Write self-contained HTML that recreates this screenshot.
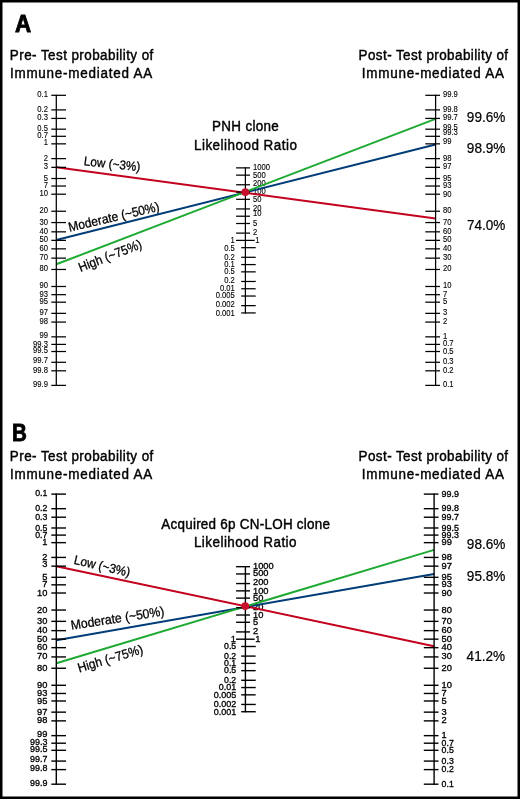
<!DOCTYPE html>
<html><head><meta charset="utf-8"><style>
html,body{margin:0;padding:0;background:#fff;}
body{width:520px;height:799px;position:relative;overflow:hidden;font-family:"Liberation Sans",sans-serif;}
svg{position:absolute;left:0;top:0;will-change:transform;}
</style></head><body>
<svg width="520" height="799" viewBox="0 0 520 799">
<rect x="0" y="0" width="520" height="799" fill="#fff"/>
<g font-family="Liberation Sans, sans-serif" fill="#000">
<text x="48.00" y="96.91" font-size="8.5" text-anchor="end" textLength="10.63" lengthAdjust="spacingAndGlyphs" stroke="#000" stroke-width="0.12">0.1</text>
<text x="48.00" y="111.89" font-size="8.5" text-anchor="end" textLength="10.63" lengthAdjust="spacingAndGlyphs" stroke="#000" stroke-width="0.12">0.2</text>
<text x="48.00" y="120.42" font-size="8.5" text-anchor="end" textLength="10.63" lengthAdjust="spacingAndGlyphs" stroke="#000" stroke-width="0.12">0.3</text>
<text x="48.00" y="131.19" font-size="8.5" text-anchor="end" textLength="10.63" lengthAdjust="spacingAndGlyphs" stroke="#000" stroke-width="0.12">0.5</text>
<text x="48.00" y="138.30" font-size="8.5" text-anchor="end" textLength="10.63" lengthAdjust="spacingAndGlyphs" stroke="#000" stroke-width="0.12">0.7</text>
<text x="48.00" y="145.45" font-size="8.5" text-anchor="end" textLength="4.25" lengthAdjust="spacingAndGlyphs" stroke="#000" stroke-width="0.12">1</text>
<text x="48.00" y="160.62" font-size="8.5" text-anchor="end" textLength="4.25" lengthAdjust="spacingAndGlyphs" stroke="#000" stroke-width="0.12">2</text>
<text x="48.00" y="169.35" font-size="8.5" text-anchor="end" textLength="4.25" lengthAdjust="spacingAndGlyphs" stroke="#000" stroke-width="0.12">3</text>
<text x="48.00" y="180.52" font-size="8.5" text-anchor="end" textLength="4.25" lengthAdjust="spacingAndGlyphs" stroke="#000" stroke-width="0.12">5</text>
<text x="48.00" y="188.03" font-size="8.5" text-anchor="end" textLength="4.25" lengthAdjust="spacingAndGlyphs" stroke="#000" stroke-width="0.12">7</text>
<text x="48.00" y="196.21" font-size="8.5" text-anchor="end" textLength="8.51" lengthAdjust="spacingAndGlyphs" stroke="#000" stroke-width="0.12">10</text>
<text x="48.00" y="213.24" font-size="8.5" text-anchor="end" textLength="8.51" lengthAdjust="spacingAndGlyphs" stroke="#000" stroke-width="0.12">20</text>
<text x="48.00" y="224.56" font-size="8.5" text-anchor="end" textLength="8.51" lengthAdjust="spacingAndGlyphs" stroke="#000" stroke-width="0.12">30</text>
<text x="48.00" y="233.84" font-size="8.5" text-anchor="end" textLength="8.51" lengthAdjust="spacingAndGlyphs" stroke="#000" stroke-width="0.12">40</text>
<text x="48.00" y="242.35" font-size="8.5" text-anchor="end" textLength="8.51" lengthAdjust="spacingAndGlyphs" stroke="#000" stroke-width="0.12">50</text>
<text x="48.00" y="250.86" font-size="8.5" text-anchor="end" textLength="8.51" lengthAdjust="spacingAndGlyphs" stroke="#000" stroke-width="0.12">60</text>
<text x="48.00" y="260.14" font-size="8.5" text-anchor="end" textLength="8.51" lengthAdjust="spacingAndGlyphs" stroke="#000" stroke-width="0.12">70</text>
<text x="48.00" y="271.46" font-size="8.5" text-anchor="end" textLength="8.51" lengthAdjust="spacingAndGlyphs" stroke="#000" stroke-width="0.12">80</text>
<text x="48.00" y="288.49" font-size="8.5" text-anchor="end" textLength="8.51" lengthAdjust="spacingAndGlyphs" stroke="#000" stroke-width="0.12">90</text>
<text x="48.00" y="296.67" font-size="8.5" text-anchor="end" textLength="8.51" lengthAdjust="spacingAndGlyphs" stroke="#000" stroke-width="0.12">93</text>
<text x="48.00" y="304.18" font-size="8.5" text-anchor="end" textLength="8.51" lengthAdjust="spacingAndGlyphs" stroke="#000" stroke-width="0.12">95</text>
<text x="48.00" y="315.35" font-size="8.5" text-anchor="end" textLength="8.51" lengthAdjust="spacingAndGlyphs" stroke="#000" stroke-width="0.12">97</text>
<text x="48.00" y="324.08" font-size="8.5" text-anchor="end" textLength="8.51" lengthAdjust="spacingAndGlyphs" stroke="#000" stroke-width="0.12">98</text>
<text x="48.00" y="337.65" font-size="8.5" text-anchor="end" textLength="8.51" lengthAdjust="spacingAndGlyphs" stroke="#000" stroke-width="0.12">99</text>
<text x="48.00" y="346.80" font-size="8.5" text-anchor="end" textLength="14.89" lengthAdjust="spacingAndGlyphs" stroke="#000" stroke-width="0.12">99.3</text>
<text x="48.00" y="353.11" font-size="8.5" text-anchor="end" textLength="14.89" lengthAdjust="spacingAndGlyphs" stroke="#000" stroke-width="0.12">99.5</text>
<text x="48.00" y="363.38" font-size="8.5" text-anchor="end" textLength="14.89" lengthAdjust="spacingAndGlyphs" stroke="#000" stroke-width="0.12">99.7</text>
<text x="48.00" y="373.01" font-size="8.5" text-anchor="end" textLength="14.89" lengthAdjust="spacingAndGlyphs" stroke="#000" stroke-width="0.12">99.8</text>
<text x="48.00" y="386.79" font-size="8.5" text-anchor="end" textLength="14.89" lengthAdjust="spacingAndGlyphs" stroke="#000" stroke-width="0.12">99.9</text>
<text x="442.90" y="97.01" font-size="8.5" textLength="14.89" lengthAdjust="spacingAndGlyphs" stroke="#000" stroke-width="0.12">99.9</text>
<text x="442.90" y="112.19" font-size="8.5" textLength="14.89" lengthAdjust="spacingAndGlyphs" stroke="#000" stroke-width="0.12">99.8</text>
<text x="442.90" y="120.42" font-size="8.5" textLength="14.89" lengthAdjust="spacingAndGlyphs" stroke="#000" stroke-width="0.12">99.7</text>
<text x="442.90" y="129.69" font-size="8.5" textLength="14.89" lengthAdjust="spacingAndGlyphs" stroke="#000" stroke-width="0.12">99.5</text>
<text x="442.90" y="135.20" font-size="8.5" textLength="14.89" lengthAdjust="spacingAndGlyphs" stroke="#000" stroke-width="0.12">99.3</text>
<text x="442.90" y="143.95" font-size="8.5" textLength="8.51" lengthAdjust="spacingAndGlyphs" stroke="#000" stroke-width="0.12">99</text>
<text x="442.90" y="161.12" font-size="8.5" textLength="8.51" lengthAdjust="spacingAndGlyphs" stroke="#000" stroke-width="0.12">98</text>
<text x="442.90" y="168.75" font-size="8.5" textLength="8.51" lengthAdjust="spacingAndGlyphs" stroke="#000" stroke-width="0.12">97</text>
<text x="442.90" y="181.02" font-size="8.5" textLength="8.51" lengthAdjust="spacingAndGlyphs" stroke="#000" stroke-width="0.12">95</text>
<text x="442.90" y="187.53" font-size="8.5" textLength="8.51" lengthAdjust="spacingAndGlyphs" stroke="#000" stroke-width="0.12">93</text>
<text x="442.90" y="196.51" font-size="8.5" textLength="8.51" lengthAdjust="spacingAndGlyphs" stroke="#000" stroke-width="0.12">90</text>
<text x="442.90" y="212.74" font-size="8.5" textLength="8.51" lengthAdjust="spacingAndGlyphs" stroke="#000" stroke-width="0.12">80</text>
<text x="442.90" y="224.86" font-size="8.5" textLength="8.51" lengthAdjust="spacingAndGlyphs" stroke="#000" stroke-width="0.12">70</text>
<text x="442.90" y="234.04" font-size="8.5" textLength="8.51" lengthAdjust="spacingAndGlyphs" stroke="#000" stroke-width="0.12">60</text>
<text x="442.90" y="242.35" font-size="8.5" textLength="8.51" lengthAdjust="spacingAndGlyphs" stroke="#000" stroke-width="0.12">50</text>
<text x="442.90" y="250.86" font-size="8.5" textLength="8.51" lengthAdjust="spacingAndGlyphs" stroke="#000" stroke-width="0.12">40</text>
<text x="442.90" y="260.14" font-size="8.5" textLength="8.51" lengthAdjust="spacingAndGlyphs" stroke="#000" stroke-width="0.12">30</text>
<text x="442.90" y="271.46" font-size="8.5" textLength="8.51" lengthAdjust="spacingAndGlyphs" stroke="#000" stroke-width="0.12">20</text>
<text x="442.90" y="288.49" font-size="8.5" textLength="8.51" lengthAdjust="spacingAndGlyphs" stroke="#000" stroke-width="0.12">10</text>
<text x="442.90" y="296.67" font-size="8.5" textLength="4.25" lengthAdjust="spacingAndGlyphs" stroke="#000" stroke-width="0.12">7</text>
<text x="442.90" y="304.18" font-size="8.5" textLength="4.25" lengthAdjust="spacingAndGlyphs" stroke="#000" stroke-width="0.12">5</text>
<text x="442.90" y="315.35" font-size="8.5" textLength="4.25" lengthAdjust="spacingAndGlyphs" stroke="#000" stroke-width="0.12">3</text>
<text x="442.90" y="324.08" font-size="8.5" textLength="4.25" lengthAdjust="spacingAndGlyphs" stroke="#000" stroke-width="0.12">2</text>
<text x="442.90" y="338.85" font-size="8.5" textLength="4.25" lengthAdjust="spacingAndGlyphs" stroke="#000" stroke-width="0.12">1</text>
<text x="442.90" y="346.40" font-size="8.5" textLength="10.63" lengthAdjust="spacingAndGlyphs" stroke="#000" stroke-width="0.12">0.7</text>
<text x="442.90" y="353.51" font-size="8.5" textLength="10.63" lengthAdjust="spacingAndGlyphs" stroke="#000" stroke-width="0.12">0.5</text>
<text x="442.90" y="364.28" font-size="8.5" textLength="10.63" lengthAdjust="spacingAndGlyphs" stroke="#000" stroke-width="0.12">0.3</text>
<text x="442.90" y="372.81" font-size="8.5" textLength="10.63" lengthAdjust="spacingAndGlyphs" stroke="#000" stroke-width="0.12">0.2</text>
<text x="442.90" y="387.39" font-size="8.5" textLength="10.63" lengthAdjust="spacingAndGlyphs" stroke="#000" stroke-width="0.12">0.1</text>
<text x="253.00" y="169.97" font-size="8.5" textLength="17.01" lengthAdjust="spacingAndGlyphs" stroke="#000" stroke-width="0.12">1000</text>
<text x="253.00" y="177.65" font-size="8.5" textLength="12.76" lengthAdjust="spacingAndGlyphs" stroke="#000" stroke-width="0.12">500</text>
<text x="253.00" y="186.37" font-size="8.5" textLength="12.76" lengthAdjust="spacingAndGlyphs" stroke="#000" stroke-width="0.12">200</text>
<text x="253.00" y="194.35" font-size="8.5" textLength="12.76" lengthAdjust="spacingAndGlyphs" stroke="#000" stroke-width="0.12">100</text>
<text x="253.00" y="201.52" font-size="8.5" textLength="8.51" lengthAdjust="spacingAndGlyphs" stroke="#000" stroke-width="0.12">50</text>
<text x="253.00" y="210.54" font-size="8.5" textLength="8.51" lengthAdjust="spacingAndGlyphs" stroke="#000" stroke-width="0.12">20</text>
<text x="253.00" y="216.42" font-size="8.5" textLength="8.51" lengthAdjust="spacingAndGlyphs" stroke="#000" stroke-width="0.12">10</text>
<text x="253.00" y="225.50" font-size="8.5" textLength="4.25" lengthAdjust="spacingAndGlyphs" stroke="#000" stroke-width="0.12">5</text>
<text x="253.00" y="235.12" font-size="8.5" textLength="4.25" lengthAdjust="spacingAndGlyphs" stroke="#000" stroke-width="0.12">2</text>
<text x="234.80" y="242.90" font-size="8.5" text-anchor="end" textLength="4.25" lengthAdjust="spacingAndGlyphs" stroke="#000" stroke-width="0.12">1</text>
<text x="255.30" y="242.70" font-size="8.5" textLength="4.25" lengthAdjust="spacingAndGlyphs" stroke="#000" stroke-width="0.12">1</text>
<text x="234.80" y="250.98" font-size="8.5" text-anchor="end" textLength="10.63" lengthAdjust="spacingAndGlyphs" stroke="#000" stroke-width="0.12">0.5</text>
<text x="234.80" y="260.20" font-size="8.5" text-anchor="end" textLength="10.63" lengthAdjust="spacingAndGlyphs" stroke="#000" stroke-width="0.12">0.2</text>
<text x="234.80" y="267.28" font-size="8.5" text-anchor="end" textLength="10.63" lengthAdjust="spacingAndGlyphs" stroke="#000" stroke-width="0.12">0.1</text>
<text x="234.80" y="273.96" font-size="8.5" text-anchor="end" textLength="10.63" lengthAdjust="spacingAndGlyphs" stroke="#000" stroke-width="0.12">0.5</text>
<text x="234.80" y="283.28" font-size="8.5" text-anchor="end" textLength="10.63" lengthAdjust="spacingAndGlyphs" stroke="#000" stroke-width="0.12">0.2</text>
<text x="234.80" y="290.75" font-size="8.5" text-anchor="end" textLength="14.89" lengthAdjust="spacingAndGlyphs" stroke="#000" stroke-width="0.12">0.01</text>
<text x="234.80" y="298.13" font-size="8.5" text-anchor="end" textLength="19.14" lengthAdjust="spacingAndGlyphs" stroke="#000" stroke-width="0.12">0.005</text>
<text x="234.80" y="306.65" font-size="8.5" text-anchor="end" textLength="19.14" lengthAdjust="spacingAndGlyphs" stroke="#000" stroke-width="0.12">0.002</text>
<text x="234.80" y="315.73" font-size="8.5" text-anchor="end" textLength="19.14" lengthAdjust="spacingAndGlyphs" stroke="#000" stroke-width="0.12">0.001</text>
<text x="47.40" y="496.25" font-size="8.3" text-anchor="end" textLength="12.18" lengthAdjust="spacingAndGlyphs" stroke="#000" stroke-width="0.3">0.1</text>
<text x="47.40" y="511.23" font-size="8.3" text-anchor="end" textLength="12.18" lengthAdjust="spacingAndGlyphs" stroke="#000" stroke-width="0.3">0.2</text>
<text x="47.40" y="519.76" font-size="8.3" text-anchor="end" textLength="12.18" lengthAdjust="spacingAndGlyphs" stroke="#000" stroke-width="0.3">0.3</text>
<text x="47.40" y="530.53" font-size="8.3" text-anchor="end" textLength="12.18" lengthAdjust="spacingAndGlyphs" stroke="#000" stroke-width="0.3">0.5</text>
<text x="47.40" y="537.64" font-size="8.3" text-anchor="end" textLength="12.18" lengthAdjust="spacingAndGlyphs" stroke="#000" stroke-width="0.3">0.7</text>
<text x="47.40" y="545.19" font-size="8.3" text-anchor="end" textLength="5.17" lengthAdjust="spacingAndGlyphs" stroke="#000" stroke-width="0.3">1</text>
<text x="47.40" y="559.96" font-size="8.3" text-anchor="end" textLength="5.17" lengthAdjust="spacingAndGlyphs" stroke="#000" stroke-width="0.3">2</text>
<text x="47.40" y="567.49" font-size="8.3" text-anchor="end" textLength="5.17" lengthAdjust="spacingAndGlyphs" stroke="#000" stroke-width="0.3">3</text>
<text x="47.40" y="579.86" font-size="8.3" text-anchor="end" textLength="5.17" lengthAdjust="spacingAndGlyphs" stroke="#000" stroke-width="0.3">5</text>
<text x="47.40" y="587.37" font-size="8.3" text-anchor="end" textLength="5.17" lengthAdjust="spacingAndGlyphs" stroke="#000" stroke-width="0.3">7</text>
<text x="47.40" y="595.55" font-size="8.3" text-anchor="end" textLength="10.34" lengthAdjust="spacingAndGlyphs" stroke="#000" stroke-width="0.3">10</text>
<text x="47.40" y="612.98" font-size="8.3" text-anchor="end" textLength="10.34" lengthAdjust="spacingAndGlyphs" stroke="#000" stroke-width="0.3">20</text>
<text x="47.40" y="623.90" font-size="8.3" text-anchor="end" textLength="10.34" lengthAdjust="spacingAndGlyphs" stroke="#000" stroke-width="0.3">30</text>
<text x="47.40" y="633.18" font-size="8.3" text-anchor="end" textLength="10.34" lengthAdjust="spacingAndGlyphs" stroke="#000" stroke-width="0.3">40</text>
<text x="47.40" y="641.69" font-size="8.3" text-anchor="end" textLength="10.34" lengthAdjust="spacingAndGlyphs" stroke="#000" stroke-width="0.3">50</text>
<text x="47.40" y="650.20" font-size="8.3" text-anchor="end" textLength="10.34" lengthAdjust="spacingAndGlyphs" stroke="#000" stroke-width="0.3">60</text>
<text x="47.40" y="659.48" font-size="8.3" text-anchor="end" textLength="10.34" lengthAdjust="spacingAndGlyphs" stroke="#000" stroke-width="0.3">70</text>
<text x="47.40" y="670.80" font-size="8.3" text-anchor="end" textLength="10.34" lengthAdjust="spacingAndGlyphs" stroke="#000" stroke-width="0.3">80</text>
<text x="47.40" y="687.83" font-size="8.3" text-anchor="end" textLength="10.34" lengthAdjust="spacingAndGlyphs" stroke="#000" stroke-width="0.3">90</text>
<text x="47.40" y="696.01" font-size="8.3" text-anchor="end" textLength="10.34" lengthAdjust="spacingAndGlyphs" stroke="#000" stroke-width="0.3">93</text>
<text x="47.40" y="703.52" font-size="8.3" text-anchor="end" textLength="10.34" lengthAdjust="spacingAndGlyphs" stroke="#000" stroke-width="0.3">95</text>
<text x="47.40" y="714.69" font-size="8.3" text-anchor="end" textLength="10.34" lengthAdjust="spacingAndGlyphs" stroke="#000" stroke-width="0.3">97</text>
<text x="47.40" y="723.42" font-size="8.3" text-anchor="end" textLength="10.34" lengthAdjust="spacingAndGlyphs" stroke="#000" stroke-width="0.3">98</text>
<text x="47.40" y="736.59" font-size="8.3" text-anchor="end" textLength="10.34" lengthAdjust="spacingAndGlyphs" stroke="#000" stroke-width="0.3">99</text>
<text x="47.40" y="745.44" font-size="8.3" text-anchor="end" textLength="17.35" lengthAdjust="spacingAndGlyphs" stroke="#000" stroke-width="0.3">99.3</text>
<text x="47.40" y="752.25" font-size="8.3" text-anchor="end" textLength="17.35" lengthAdjust="spacingAndGlyphs" stroke="#000" stroke-width="0.3">99.5</text>
<text x="47.40" y="761.52" font-size="8.3" text-anchor="end" textLength="17.35" lengthAdjust="spacingAndGlyphs" stroke="#000" stroke-width="0.3">99.7</text>
<text x="47.40" y="771.15" font-size="8.3" text-anchor="end" textLength="17.35" lengthAdjust="spacingAndGlyphs" stroke="#000" stroke-width="0.3">99.8</text>
<text x="47.40" y="785.73" font-size="8.3" text-anchor="end" textLength="17.35" lengthAdjust="spacingAndGlyphs" stroke="#000" stroke-width="0.3">99.9</text>
<text x="441.58" y="496.65" font-size="8.3" textLength="17.35" lengthAdjust="spacingAndGlyphs" stroke="#000" stroke-width="0.3">99.9</text>
<text x="441.58" y="511.23" font-size="8.3" textLength="17.35" lengthAdjust="spacingAndGlyphs" stroke="#000" stroke-width="0.3">99.8</text>
<text x="441.58" y="519.76" font-size="8.3" textLength="17.35" lengthAdjust="spacingAndGlyphs" stroke="#000" stroke-width="0.3">99.7</text>
<text x="441.58" y="530.53" font-size="8.3" textLength="17.35" lengthAdjust="spacingAndGlyphs" stroke="#000" stroke-width="0.3">99.5</text>
<text x="441.58" y="537.64" font-size="8.3" textLength="17.35" lengthAdjust="spacingAndGlyphs" stroke="#000" stroke-width="0.3">99.3</text>
<text x="441.58" y="545.19" font-size="8.3" textLength="10.34" lengthAdjust="spacingAndGlyphs" stroke="#000" stroke-width="0.3">99</text>
<text x="441.58" y="559.96" font-size="8.3" textLength="10.34" lengthAdjust="spacingAndGlyphs" stroke="#000" stroke-width="0.3">98</text>
<text x="441.58" y="568.69" font-size="8.3" textLength="10.34" lengthAdjust="spacingAndGlyphs" stroke="#000" stroke-width="0.3">97</text>
<text x="441.58" y="579.86" font-size="8.3" textLength="10.34" lengthAdjust="spacingAndGlyphs" stroke="#000" stroke-width="0.3">95</text>
<text x="441.58" y="587.37" font-size="8.3" textLength="10.34" lengthAdjust="spacingAndGlyphs" stroke="#000" stroke-width="0.3">93</text>
<text x="441.58" y="595.55" font-size="8.3" textLength="10.34" lengthAdjust="spacingAndGlyphs" stroke="#000" stroke-width="0.3">90</text>
<text x="441.58" y="612.58" font-size="8.3" textLength="10.34" lengthAdjust="spacingAndGlyphs" stroke="#000" stroke-width="0.3">80</text>
<text x="441.58" y="623.90" font-size="8.3" textLength="10.34" lengthAdjust="spacingAndGlyphs" stroke="#000" stroke-width="0.3">70</text>
<text x="441.58" y="633.18" font-size="8.3" textLength="10.34" lengthAdjust="spacingAndGlyphs" stroke="#000" stroke-width="0.3">60</text>
<text x="441.58" y="641.69" font-size="8.3" textLength="10.34" lengthAdjust="spacingAndGlyphs" stroke="#000" stroke-width="0.3">50</text>
<text x="441.58" y="650.20" font-size="8.3" textLength="10.34" lengthAdjust="spacingAndGlyphs" stroke="#000" stroke-width="0.3">40</text>
<text x="441.58" y="659.48" font-size="8.3" textLength="10.34" lengthAdjust="spacingAndGlyphs" stroke="#000" stroke-width="0.3">30</text>
<text x="441.58" y="670.80" font-size="8.3" textLength="10.34" lengthAdjust="spacingAndGlyphs" stroke="#000" stroke-width="0.3">20</text>
<text x="441.58" y="687.83" font-size="8.3" textLength="10.34" lengthAdjust="spacingAndGlyphs" stroke="#000" stroke-width="0.3">10</text>
<text x="441.58" y="696.01" font-size="8.3" textLength="5.17" lengthAdjust="spacingAndGlyphs" stroke="#000" stroke-width="0.3">7</text>
<text x="441.58" y="703.52" font-size="8.3" textLength="5.17" lengthAdjust="spacingAndGlyphs" stroke="#000" stroke-width="0.3">5</text>
<text x="441.58" y="714.69" font-size="8.3" textLength="5.17" lengthAdjust="spacingAndGlyphs" stroke="#000" stroke-width="0.3">3</text>
<text x="441.58" y="723.42" font-size="8.3" textLength="5.17" lengthAdjust="spacingAndGlyphs" stroke="#000" stroke-width="0.3">2</text>
<text x="441.58" y="738.19" font-size="8.3" textLength="5.17" lengthAdjust="spacingAndGlyphs" stroke="#000" stroke-width="0.3">1</text>
<text x="441.58" y="745.74" font-size="8.3" textLength="12.18" lengthAdjust="spacingAndGlyphs" stroke="#000" stroke-width="0.3">0.7</text>
<text x="441.58" y="752.85" font-size="8.3" textLength="12.18" lengthAdjust="spacingAndGlyphs" stroke="#000" stroke-width="0.3">0.5</text>
<text x="441.58" y="763.62" font-size="8.3" textLength="12.18" lengthAdjust="spacingAndGlyphs" stroke="#000" stroke-width="0.3">0.3</text>
<text x="441.58" y="772.15" font-size="8.3" textLength="12.18" lengthAdjust="spacingAndGlyphs" stroke="#000" stroke-width="0.3">0.2</text>
<text x="441.58" y="786.73" font-size="8.3" textLength="12.18" lengthAdjust="spacingAndGlyphs" stroke="#000" stroke-width="0.3">0.1</text>
<text x="253.00" y="569.21" font-size="8.3" textLength="20.67" lengthAdjust="spacingAndGlyphs" stroke="#000" stroke-width="0.3">1000</text>
<text x="253.00" y="576.49" font-size="8.3" textLength="15.51" lengthAdjust="spacingAndGlyphs" stroke="#000" stroke-width="0.3">500</text>
<text x="253.00" y="584.81" font-size="8.3" textLength="15.51" lengthAdjust="spacingAndGlyphs" stroke="#000" stroke-width="0.3">200</text>
<text x="253.00" y="594.19" font-size="8.3" textLength="15.51" lengthAdjust="spacingAndGlyphs" stroke="#000" stroke-width="0.3">100</text>
<text x="253.00" y="600.66" font-size="8.3" textLength="10.34" lengthAdjust="spacingAndGlyphs" stroke="#000" stroke-width="0.3">50</text>
<text x="253.00" y="610.28" font-size="8.3" textLength="10.34" lengthAdjust="spacingAndGlyphs" stroke="#000" stroke-width="0.3">20</text>
<text x="253.00" y="617.56" font-size="8.3" textLength="10.34" lengthAdjust="spacingAndGlyphs" stroke="#000" stroke-width="0.3">10</text>
<text x="253.00" y="624.84" font-size="8.3" textLength="5.17" lengthAdjust="spacingAndGlyphs" stroke="#000" stroke-width="0.3">5</text>
<text x="253.00" y="634.46" font-size="8.3" textLength="5.17" lengthAdjust="spacingAndGlyphs" stroke="#000" stroke-width="0.3">2</text>
<text x="236.00" y="641.74" font-size="8.3" text-anchor="end" textLength="5.17" lengthAdjust="spacingAndGlyphs" stroke="#000" stroke-width="0.3">1</text>
<text x="255.30" y="641.74" font-size="8.3" textLength="5.17" lengthAdjust="spacingAndGlyphs" stroke="#000" stroke-width="0.3">1</text>
<text x="236.20" y="649.02" font-size="8.3" text-anchor="end" textLength="12.18" lengthAdjust="spacingAndGlyphs" stroke="#000" stroke-width="0.3">0.5</text>
<text x="236.20" y="658.64" font-size="8.3" text-anchor="end" textLength="12.18" lengthAdjust="spacingAndGlyphs" stroke="#000" stroke-width="0.3">0.2</text>
<text x="236.20" y="665.92" font-size="8.3" text-anchor="end" textLength="12.18" lengthAdjust="spacingAndGlyphs" stroke="#000" stroke-width="0.3">0.1</text>
<text x="236.20" y="673.20" font-size="8.3" text-anchor="end" textLength="12.18" lengthAdjust="spacingAndGlyphs" stroke="#000" stroke-width="0.3">0.5</text>
<text x="236.20" y="682.82" font-size="8.3" text-anchor="end" textLength="12.18" lengthAdjust="spacingAndGlyphs" stroke="#000" stroke-width="0.3">0.2</text>
<text x="236.20" y="690.09" font-size="8.3" text-anchor="end" textLength="17.35" lengthAdjust="spacingAndGlyphs" stroke="#000" stroke-width="0.3">0.01</text>
<text x="236.20" y="698.47" font-size="8.3" text-anchor="end" textLength="22.52" lengthAdjust="spacingAndGlyphs" stroke="#000" stroke-width="0.3">0.005</text>
<text x="236.20" y="706.69" font-size="8.3" text-anchor="end" textLength="22.52" lengthAdjust="spacingAndGlyphs" stroke="#000" stroke-width="0.3">0.002</text>
<text x="236.20" y="714.97" font-size="8.3" text-anchor="end" textLength="22.52" lengthAdjust="spacingAndGlyphs" stroke="#000" stroke-width="0.3">0.001</text>
<text x="10.29" y="59.60" font-size="14.0" textLength="149.42" lengthAdjust="spacing" stroke="#000" stroke-width="0.42" transform="scale(0.96,1)">Pre- Test probability of</text>
<text x="10.36" y="77.90" font-size="14.0" textLength="148.22" lengthAdjust="spacing" stroke="#000" stroke-width="0.42" transform="scale(0.96,1)">Immune-mediated AA</text>
<text x="373.52" y="59.70" font-size="14.0" textLength="155.74" lengthAdjust="spacing" stroke="#000" stroke-width="0.42" transform="scale(0.96,1)">Post- Test probability of</text>
<text x="376.95" y="77.95" font-size="14.0" textLength="148.01" lengthAdjust="spacing" stroke="#000" stroke-width="0.42" transform="scale(0.96,1)">Immune-mediated AA</text>
<text x="10.29" y="460.90" font-size="14.0" textLength="149.42" lengthAdjust="spacing" stroke="#000" stroke-width="0.42" transform="scale(0.96,1)">Pre- Test probability of</text>
<text x="10.36" y="479.20" font-size="14.0" textLength="148.22" lengthAdjust="spacing" stroke="#000" stroke-width="0.42" transform="scale(0.96,1)">Immune-mediated AA</text>
<text x="373.52" y="461.00" font-size="14.0" textLength="155.74" lengthAdjust="spacing" stroke="#000" stroke-width="0.42" transform="scale(0.96,1)">Post- Test probability of</text>
<text x="376.95" y="479.25" font-size="14.0" textLength="148.01" lengthAdjust="spacing" stroke="#000" stroke-width="0.42" transform="scale(0.96,1)">Immune-mediated AA</text>
<text x="14.97" y="31.80" font-size="24.2" font-weight="bold" textLength="16.16" lengthAdjust="spacingAndGlyphs" stroke="#000" stroke-width="0.9">A</text>
<text x="12.08" y="440.90" font-size="24.2" font-weight="bold" textLength="14.82" lengthAdjust="spacingAndGlyphs" stroke="#000" stroke-width="0.9">B</text>
<text x="220.95" y="131.30" font-size="14.0" textLength="69.40" lengthAdjust="spacing" stroke="#000" stroke-width="0.42" transform="scale(0.96,1)">PNH clone</text>
<text x="202.01" y="149.80" font-size="14.0" textLength="107.34" lengthAdjust="spacing" stroke="#000" stroke-width="0.42" transform="scale(0.96,1)">Likelihood Ratio</text>
<text x="167.94" y="528.70" font-size="14.0" textLength="175.86" lengthAdjust="spacing" stroke="#000" stroke-width="0.42" transform="scale(0.96,1)">Acquired 6p CN-LOH clone</text>
<text x="202.01" y="547.10" font-size="14.0" textLength="106.90" lengthAdjust="spacing" stroke="#000" stroke-width="0.42" transform="scale(0.96,1)">Likelihood Ratio</text>
<text x="466.84" y="121.90" font-size="14.2" textLength="38.58" lengthAdjust="spacingAndGlyphs" stroke="#000" stroke-width="0.2">99.6%</text>
<text x="466.84" y="153.10" font-size="14.2" textLength="38.58" lengthAdjust="spacingAndGlyphs" stroke="#000" stroke-width="0.2">98.9%</text>
<text x="466.89" y="229.90" font-size="14.2" textLength="38.42" lengthAdjust="spacingAndGlyphs" stroke="#000" stroke-width="0.2">74.0%</text>
<text x="466.84" y="548.90" font-size="14.2" textLength="38.58" lengthAdjust="spacingAndGlyphs" stroke="#000" stroke-width="0.2">98.6%</text>
<text x="466.84" y="581.10" font-size="14.2" textLength="38.58" lengthAdjust="spacingAndGlyphs" stroke="#000" stroke-width="0.2">95.8%</text>
<text x="466.61" y="660.80" font-size="14.2" textLength="38.57" lengthAdjust="spacingAndGlyphs" stroke="#000" stroke-width="0.2">41.2%</text>
<text x="0.00" y="0.00" font-size="12.8" textLength="56.50" lengthAdjust="spacingAndGlyphs" transform="translate(83.6,165.3) rotate(6.0)" stroke="#000" stroke-width="0.3">Low (~3%)</text>
<text x="0.00" y="0.00" font-size="13.0" textLength="93.00" lengthAdjust="spacingAndGlyphs" transform="translate(69.6,231.8) rotate(-13.2)" stroke="#000" stroke-width="0.3">Moderate (~50%)</text>
<text x="0.00" y="0.00" font-size="13.0" textLength="67.00" lengthAdjust="spacingAndGlyphs" transform="translate(80.4,272.0) rotate(-21.3)" stroke="#000" stroke-width="0.3">High (~75%)</text>
<text x="0.00" y="0.00" font-size="12.8" textLength="57.20" lengthAdjust="spacingAndGlyphs" transform="translate(73.3,563.8) rotate(13)" stroke="#000" stroke-width="0.3">Low (~3%)</text>
<text x="0.00" y="0.00" font-size="13.1" textLength="94.50" lengthAdjust="spacingAndGlyphs" transform="translate(71.4,629.8) rotate(-8.8)" stroke="#000" stroke-width="0.3">Moderate (~50%)</text>
<text x="0.00" y="0.00" font-size="13.0" textLength="67.50" lengthAdjust="spacingAndGlyphs" transform="translate(79.2,672.6) rotate(-16.8)" stroke="#000" stroke-width="0.3">High (~75%)</text>
<line x1="56.30" y1="240.00" x2="435.60" y2="144.50" stroke="#003c78" stroke-width="2"/>
<line x1="56.30" y1="264.30" x2="435.60" y2="118.90" stroke="#1eaa32" stroke-width="2"/>
<line x1="56.30" y1="167.35" x2="435.60" y2="218.40" stroke="#c3001e" stroke-width="2"/>
<line x1="56.30" y1="640.30" x2="434.10" y2="574.00" stroke="#003c78" stroke-width="2"/>
<line x1="56.30" y1="663.20" x2="434.10" y2="549.90" stroke="#1eaa32" stroke-width="2"/>
<line x1="56.30" y1="566.15" x2="434.10" y2="646.30" stroke="#c3001e" stroke-width="2"/>
<line x1="56.30" y1="94.71" x2="56.30" y2="385.99" stroke="#000" stroke-width="1.25"/>
<line x1="51.30" y1="95.31" x2="66.00" y2="95.31" stroke="#000" stroke-width="1.25"/>
<line x1="51.30" y1="109.89" x2="66.00" y2="109.89" stroke="#000" stroke-width="1.25"/>
<line x1="51.30" y1="118.42" x2="66.00" y2="118.42" stroke="#000" stroke-width="1.25"/>
<line x1="51.30" y1="129.19" x2="66.00" y2="129.19" stroke="#000" stroke-width="1.25"/>
<line x1="51.30" y1="136.30" x2="66.00" y2="136.30" stroke="#000" stroke-width="1.25"/>
<line x1="51.30" y1="143.85" x2="66.00" y2="143.85" stroke="#000" stroke-width="1.25"/>
<line x1="51.30" y1="158.62" x2="66.00" y2="158.62" stroke="#000" stroke-width="1.25"/>
<line x1="51.30" y1="167.35" x2="66.00" y2="167.35" stroke="#000" stroke-width="1.25"/>
<line x1="51.30" y1="178.52" x2="66.00" y2="178.52" stroke="#000" stroke-width="1.25"/>
<line x1="51.30" y1="186.03" x2="66.00" y2="186.03" stroke="#000" stroke-width="1.25"/>
<line x1="51.30" y1="194.21" x2="66.00" y2="194.21" stroke="#000" stroke-width="1.25"/>
<line x1="51.30" y1="211.24" x2="66.00" y2="211.24" stroke="#000" stroke-width="1.25"/>
<line x1="51.30" y1="222.56" x2="66.00" y2="222.56" stroke="#000" stroke-width="1.25"/>
<line x1="51.30" y1="231.84" x2="66.00" y2="231.84" stroke="#000" stroke-width="1.25"/>
<line x1="51.30" y1="240.35" x2="66.00" y2="240.35" stroke="#000" stroke-width="1.25"/>
<line x1="51.30" y1="248.86" x2="66.00" y2="248.86" stroke="#000" stroke-width="1.25"/>
<line x1="51.30" y1="258.14" x2="66.00" y2="258.14" stroke="#000" stroke-width="1.25"/>
<line x1="51.30" y1="269.46" x2="66.00" y2="269.46" stroke="#000" stroke-width="1.25"/>
<line x1="51.30" y1="286.49" x2="66.00" y2="286.49" stroke="#000" stroke-width="1.25"/>
<line x1="51.30" y1="294.67" x2="66.00" y2="294.67" stroke="#000" stroke-width="1.25"/>
<line x1="51.30" y1="302.18" x2="66.00" y2="302.18" stroke="#000" stroke-width="1.25"/>
<line x1="51.30" y1="313.35" x2="66.00" y2="313.35" stroke="#000" stroke-width="1.25"/>
<line x1="51.30" y1="322.08" x2="66.00" y2="322.08" stroke="#000" stroke-width="1.25"/>
<line x1="51.30" y1="336.85" x2="66.00" y2="336.85" stroke="#000" stroke-width="1.25"/>
<line x1="51.30" y1="344.40" x2="66.00" y2="344.40" stroke="#000" stroke-width="1.25"/>
<line x1="51.30" y1="351.51" x2="66.00" y2="351.51" stroke="#000" stroke-width="1.25"/>
<line x1="51.30" y1="362.28" x2="66.00" y2="362.28" stroke="#000" stroke-width="1.25"/>
<line x1="51.30" y1="370.81" x2="66.00" y2="370.81" stroke="#000" stroke-width="1.25"/>
<line x1="51.30" y1="385.39" x2="66.00" y2="385.39" stroke="#000" stroke-width="1.25"/>
<line x1="435.60" y1="94.71" x2="435.60" y2="385.99" stroke="#000" stroke-width="1.25"/>
<line x1="425.30" y1="95.31" x2="440.00" y2="95.31" stroke="#000" stroke-width="1.25"/>
<line x1="425.30" y1="109.89" x2="440.00" y2="109.89" stroke="#000" stroke-width="1.25"/>
<line x1="425.30" y1="118.42" x2="440.00" y2="118.42" stroke="#000" stroke-width="1.25"/>
<line x1="425.30" y1="129.19" x2="440.00" y2="129.19" stroke="#000" stroke-width="1.25"/>
<line x1="425.30" y1="136.30" x2="440.00" y2="136.30" stroke="#000" stroke-width="1.25"/>
<line x1="425.30" y1="143.85" x2="440.00" y2="143.85" stroke="#000" stroke-width="1.25"/>
<line x1="425.30" y1="158.62" x2="440.00" y2="158.62" stroke="#000" stroke-width="1.25"/>
<line x1="425.30" y1="167.35" x2="440.00" y2="167.35" stroke="#000" stroke-width="1.25"/>
<line x1="425.30" y1="178.52" x2="440.00" y2="178.52" stroke="#000" stroke-width="1.25"/>
<line x1="425.30" y1="186.03" x2="440.00" y2="186.03" stroke="#000" stroke-width="1.25"/>
<line x1="425.30" y1="194.21" x2="440.00" y2="194.21" stroke="#000" stroke-width="1.25"/>
<line x1="425.30" y1="211.24" x2="440.00" y2="211.24" stroke="#000" stroke-width="1.25"/>
<line x1="425.30" y1="222.56" x2="440.00" y2="222.56" stroke="#000" stroke-width="1.25"/>
<line x1="425.30" y1="231.84" x2="440.00" y2="231.84" stroke="#000" stroke-width="1.25"/>
<line x1="425.30" y1="240.35" x2="440.00" y2="240.35" stroke="#000" stroke-width="1.25"/>
<line x1="425.30" y1="248.86" x2="440.00" y2="248.86" stroke="#000" stroke-width="1.25"/>
<line x1="425.30" y1="258.14" x2="440.00" y2="258.14" stroke="#000" stroke-width="1.25"/>
<line x1="425.30" y1="269.46" x2="440.00" y2="269.46" stroke="#000" stroke-width="1.25"/>
<line x1="425.30" y1="286.49" x2="440.00" y2="286.49" stroke="#000" stroke-width="1.25"/>
<line x1="425.30" y1="294.67" x2="440.00" y2="294.67" stroke="#000" stroke-width="1.25"/>
<line x1="425.30" y1="302.18" x2="440.00" y2="302.18" stroke="#000" stroke-width="1.25"/>
<line x1="425.30" y1="313.35" x2="440.00" y2="313.35" stroke="#000" stroke-width="1.25"/>
<line x1="425.30" y1="322.08" x2="440.00" y2="322.08" stroke="#000" stroke-width="1.25"/>
<line x1="425.30" y1="336.85" x2="440.00" y2="336.85" stroke="#000" stroke-width="1.25"/>
<line x1="425.30" y1="344.40" x2="440.00" y2="344.40" stroke="#000" stroke-width="1.25"/>
<line x1="425.30" y1="351.51" x2="440.00" y2="351.51" stroke="#000" stroke-width="1.25"/>
<line x1="425.30" y1="362.28" x2="440.00" y2="362.28" stroke="#000" stroke-width="1.25"/>
<line x1="425.30" y1="370.81" x2="440.00" y2="370.81" stroke="#000" stroke-width="1.25"/>
<line x1="425.30" y1="385.39" x2="440.00" y2="385.39" stroke="#000" stroke-width="1.25"/>
<line x1="245.40" y1="167.27" x2="245.40" y2="313.53" stroke="#000" stroke-width="1.25"/>
<line x1="236.10" y1="167.87" x2="250.00" y2="167.87" stroke="#000" stroke-width="1.25"/>
<line x1="236.10" y1="175.15" x2="250.00" y2="175.15" stroke="#000" stroke-width="1.25"/>
<line x1="236.10" y1="184.77" x2="250.00" y2="184.77" stroke="#000" stroke-width="1.25"/>
<line x1="236.10" y1="192.05" x2="250.00" y2="192.05" stroke="#000" stroke-width="1.25"/>
<line x1="236.10" y1="199.32" x2="250.00" y2="199.32" stroke="#000" stroke-width="1.25"/>
<line x1="236.10" y1="208.94" x2="250.00" y2="208.94" stroke="#000" stroke-width="1.25"/>
<line x1="236.10" y1="216.22" x2="250.00" y2="216.22" stroke="#000" stroke-width="1.25"/>
<line x1="236.10" y1="223.50" x2="250.00" y2="223.50" stroke="#000" stroke-width="1.25"/>
<line x1="236.10" y1="233.12" x2="250.00" y2="233.12" stroke="#000" stroke-width="1.25"/>
<line x1="236.00" y1="240.40" x2="254.70" y2="240.40" stroke="#000" stroke-width="1.25"/>
<line x1="241.20" y1="247.68" x2="255.70" y2="247.68" stroke="#000" stroke-width="1.25"/>
<line x1="241.20" y1="257.30" x2="255.70" y2="257.30" stroke="#000" stroke-width="1.25"/>
<line x1="241.20" y1="264.58" x2="255.70" y2="264.58" stroke="#000" stroke-width="1.25"/>
<line x1="241.20" y1="271.86" x2="255.70" y2="271.86" stroke="#000" stroke-width="1.25"/>
<line x1="241.20" y1="281.48" x2="255.70" y2="281.48" stroke="#000" stroke-width="1.25"/>
<line x1="241.20" y1="288.75" x2="255.70" y2="288.75" stroke="#000" stroke-width="1.25"/>
<line x1="241.20" y1="296.03" x2="255.70" y2="296.03" stroke="#000" stroke-width="1.25"/>
<line x1="241.20" y1="305.65" x2="255.70" y2="305.65" stroke="#000" stroke-width="1.25"/>
<line x1="241.20" y1="312.93" x2="255.70" y2="312.93" stroke="#000" stroke-width="1.25"/>
<line x1="56.30" y1="493.51" x2="56.30" y2="784.79" stroke="#000" stroke-width="1.4"/>
<line x1="51.30" y1="494.11" x2="66.00" y2="494.11" stroke="#000" stroke-width="1.4"/>
<line x1="51.30" y1="508.69" x2="66.00" y2="508.69" stroke="#000" stroke-width="1.4"/>
<line x1="51.30" y1="517.22" x2="66.00" y2="517.22" stroke="#000" stroke-width="1.4"/>
<line x1="51.30" y1="527.99" x2="66.00" y2="527.99" stroke="#000" stroke-width="1.4"/>
<line x1="51.30" y1="535.10" x2="66.00" y2="535.10" stroke="#000" stroke-width="1.4"/>
<line x1="51.30" y1="542.65" x2="66.00" y2="542.65" stroke="#000" stroke-width="1.4"/>
<line x1="51.30" y1="557.42" x2="66.00" y2="557.42" stroke="#000" stroke-width="1.4"/>
<line x1="51.30" y1="566.15" x2="66.00" y2="566.15" stroke="#000" stroke-width="1.4"/>
<line x1="51.30" y1="577.32" x2="66.00" y2="577.32" stroke="#000" stroke-width="1.4"/>
<line x1="51.30" y1="584.83" x2="66.00" y2="584.83" stroke="#000" stroke-width="1.4"/>
<line x1="51.30" y1="593.01" x2="66.00" y2="593.01" stroke="#000" stroke-width="1.4"/>
<line x1="51.30" y1="610.04" x2="66.00" y2="610.04" stroke="#000" stroke-width="1.4"/>
<line x1="51.30" y1="621.36" x2="66.00" y2="621.36" stroke="#000" stroke-width="1.4"/>
<line x1="51.30" y1="630.64" x2="66.00" y2="630.64" stroke="#000" stroke-width="1.4"/>
<line x1="51.30" y1="639.15" x2="66.00" y2="639.15" stroke="#000" stroke-width="1.4"/>
<line x1="51.30" y1="647.66" x2="66.00" y2="647.66" stroke="#000" stroke-width="1.4"/>
<line x1="51.30" y1="656.94" x2="66.00" y2="656.94" stroke="#000" stroke-width="1.4"/>
<line x1="51.30" y1="668.26" x2="66.00" y2="668.26" stroke="#000" stroke-width="1.4"/>
<line x1="51.30" y1="685.29" x2="66.00" y2="685.29" stroke="#000" stroke-width="1.4"/>
<line x1="51.30" y1="693.47" x2="66.00" y2="693.47" stroke="#000" stroke-width="1.4"/>
<line x1="51.30" y1="700.98" x2="66.00" y2="700.98" stroke="#000" stroke-width="1.4"/>
<line x1="51.30" y1="712.15" x2="66.00" y2="712.15" stroke="#000" stroke-width="1.4"/>
<line x1="51.30" y1="720.88" x2="66.00" y2="720.88" stroke="#000" stroke-width="1.4"/>
<line x1="51.30" y1="735.65" x2="66.00" y2="735.65" stroke="#000" stroke-width="1.4"/>
<line x1="51.30" y1="743.20" x2="66.00" y2="743.20" stroke="#000" stroke-width="1.4"/>
<line x1="51.30" y1="750.31" x2="66.00" y2="750.31" stroke="#000" stroke-width="1.4"/>
<line x1="51.30" y1="761.08" x2="66.00" y2="761.08" stroke="#000" stroke-width="1.4"/>
<line x1="51.30" y1="769.61" x2="66.00" y2="769.61" stroke="#000" stroke-width="1.4"/>
<line x1="51.30" y1="784.19" x2="66.00" y2="784.19" stroke="#000" stroke-width="1.4"/>
<line x1="434.10" y1="493.51" x2="434.10" y2="784.79" stroke="#000" stroke-width="1.4"/>
<line x1="423.80" y1="494.11" x2="438.50" y2="494.11" stroke="#000" stroke-width="1.4"/>
<line x1="423.80" y1="508.69" x2="438.50" y2="508.69" stroke="#000" stroke-width="1.4"/>
<line x1="423.80" y1="517.22" x2="438.50" y2="517.22" stroke="#000" stroke-width="1.4"/>
<line x1="423.80" y1="527.99" x2="438.50" y2="527.99" stroke="#000" stroke-width="1.4"/>
<line x1="423.80" y1="535.10" x2="438.50" y2="535.10" stroke="#000" stroke-width="1.4"/>
<line x1="423.80" y1="542.65" x2="438.50" y2="542.65" stroke="#000" stroke-width="1.4"/>
<line x1="423.80" y1="557.42" x2="438.50" y2="557.42" stroke="#000" stroke-width="1.4"/>
<line x1="423.80" y1="566.15" x2="438.50" y2="566.15" stroke="#000" stroke-width="1.4"/>
<line x1="423.80" y1="577.32" x2="438.50" y2="577.32" stroke="#000" stroke-width="1.4"/>
<line x1="423.80" y1="584.83" x2="438.50" y2="584.83" stroke="#000" stroke-width="1.4"/>
<line x1="423.80" y1="593.01" x2="438.50" y2="593.01" stroke="#000" stroke-width="1.4"/>
<line x1="423.80" y1="610.04" x2="438.50" y2="610.04" stroke="#000" stroke-width="1.4"/>
<line x1="423.80" y1="621.36" x2="438.50" y2="621.36" stroke="#000" stroke-width="1.4"/>
<line x1="423.80" y1="630.64" x2="438.50" y2="630.64" stroke="#000" stroke-width="1.4"/>
<line x1="423.80" y1="639.15" x2="438.50" y2="639.15" stroke="#000" stroke-width="1.4"/>
<line x1="423.80" y1="647.66" x2="438.50" y2="647.66" stroke="#000" stroke-width="1.4"/>
<line x1="423.80" y1="656.94" x2="438.50" y2="656.94" stroke="#000" stroke-width="1.4"/>
<line x1="423.80" y1="668.26" x2="438.50" y2="668.26" stroke="#000" stroke-width="1.4"/>
<line x1="423.80" y1="685.29" x2="438.50" y2="685.29" stroke="#000" stroke-width="1.4"/>
<line x1="423.80" y1="693.47" x2="438.50" y2="693.47" stroke="#000" stroke-width="1.4"/>
<line x1="423.80" y1="700.98" x2="438.50" y2="700.98" stroke="#000" stroke-width="1.4"/>
<line x1="423.80" y1="712.15" x2="438.50" y2="712.15" stroke="#000" stroke-width="1.4"/>
<line x1="423.80" y1="720.88" x2="438.50" y2="720.88" stroke="#000" stroke-width="1.4"/>
<line x1="423.80" y1="735.65" x2="438.50" y2="735.65" stroke="#000" stroke-width="1.4"/>
<line x1="423.80" y1="743.20" x2="438.50" y2="743.20" stroke="#000" stroke-width="1.4"/>
<line x1="423.80" y1="750.31" x2="438.50" y2="750.31" stroke="#000" stroke-width="1.4"/>
<line x1="423.80" y1="761.08" x2="438.50" y2="761.08" stroke="#000" stroke-width="1.4"/>
<line x1="423.80" y1="769.61" x2="438.50" y2="769.61" stroke="#000" stroke-width="1.4"/>
<line x1="423.80" y1="784.19" x2="438.50" y2="784.19" stroke="#000" stroke-width="1.4"/>
<line x1="245.40" y1="566.07" x2="245.40" y2="712.33" stroke="#000" stroke-width="1.4"/>
<line x1="236.10" y1="566.67" x2="250.00" y2="566.67" stroke="#000" stroke-width="1.4"/>
<line x1="236.10" y1="573.95" x2="250.00" y2="573.95" stroke="#000" stroke-width="1.4"/>
<line x1="236.10" y1="583.57" x2="250.00" y2="583.57" stroke="#000" stroke-width="1.4"/>
<line x1="236.10" y1="590.85" x2="250.00" y2="590.85" stroke="#000" stroke-width="1.4"/>
<line x1="236.10" y1="598.12" x2="250.00" y2="598.12" stroke="#000" stroke-width="1.4"/>
<line x1="236.10" y1="607.74" x2="250.00" y2="607.74" stroke="#000" stroke-width="1.4"/>
<line x1="236.10" y1="615.02" x2="250.00" y2="615.02" stroke="#000" stroke-width="1.4"/>
<line x1="236.10" y1="622.30" x2="250.00" y2="622.30" stroke="#000" stroke-width="1.4"/>
<line x1="236.10" y1="631.92" x2="250.00" y2="631.92" stroke="#000" stroke-width="1.4"/>
<line x1="236.00" y1="639.20" x2="254.70" y2="639.20" stroke="#000" stroke-width="1.4"/>
<line x1="241.20" y1="646.48" x2="255.70" y2="646.48" stroke="#000" stroke-width="1.4"/>
<line x1="241.20" y1="656.10" x2="255.70" y2="656.10" stroke="#000" stroke-width="1.4"/>
<line x1="241.20" y1="663.38" x2="255.70" y2="663.38" stroke="#000" stroke-width="1.4"/>
<line x1="241.20" y1="670.66" x2="255.70" y2="670.66" stroke="#000" stroke-width="1.4"/>
<line x1="241.20" y1="680.28" x2="255.70" y2="680.28" stroke="#000" stroke-width="1.4"/>
<line x1="241.20" y1="687.55" x2="255.70" y2="687.55" stroke="#000" stroke-width="1.4"/>
<line x1="241.20" y1="694.83" x2="255.70" y2="694.83" stroke="#000" stroke-width="1.4"/>
<line x1="241.20" y1="704.45" x2="255.70" y2="704.45" stroke="#000" stroke-width="1.4"/>
<line x1="241.20" y1="711.73" x2="255.70" y2="711.73" stroke="#000" stroke-width="1.4"/>
<circle cx="245.3" cy="192.1" r="3.9" fill="#c8102e"/>
<circle cx="245.2" cy="606.1" r="3.9" fill="#c8102e"/>
</g>
<path d="M0 0H520V799H0Z M2.5 2.5V796.5H517.5V2.5Z" fill="#000" fill-rule="evenodd"/>
</svg>
</body></html>
